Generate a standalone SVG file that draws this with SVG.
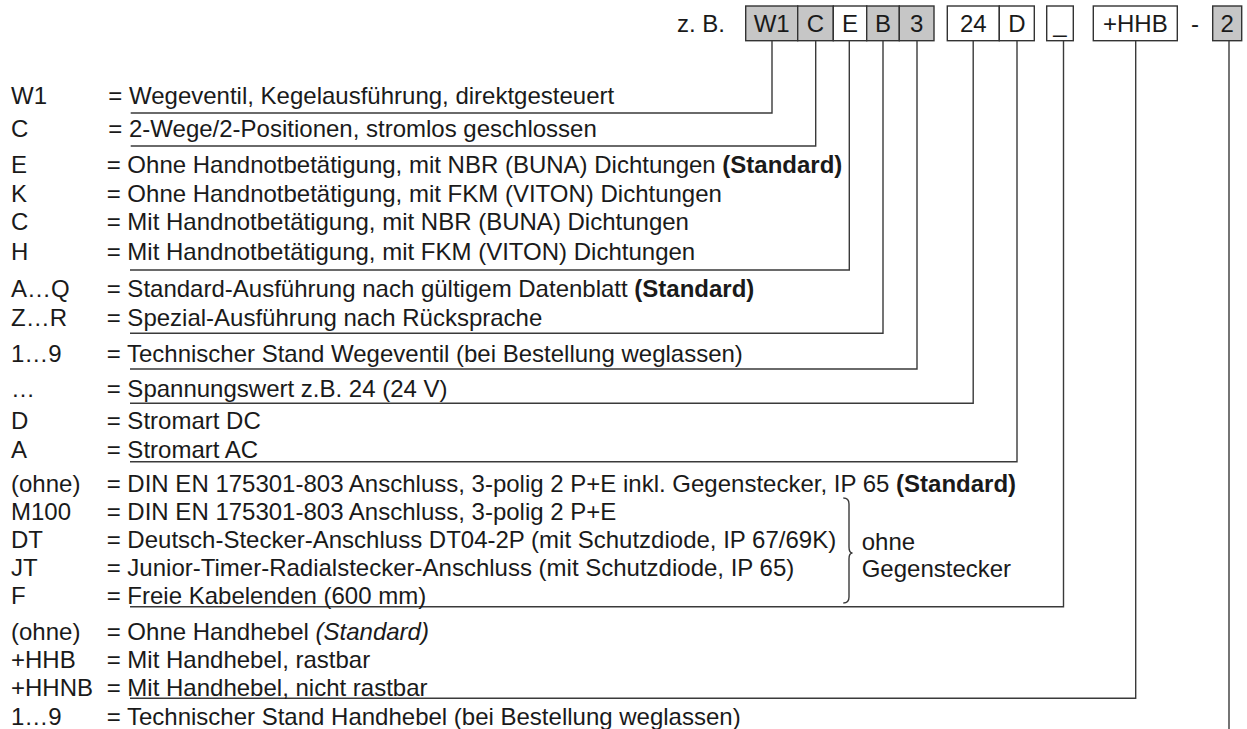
<svg xmlns="http://www.w3.org/2000/svg" width="1247" height="729" viewBox="0 0 1247 729">
<style>
text{font-family:"Liberation Sans",Arial,sans-serif;font-size:24px;fill:#1a1a1a}
.b{font-weight:bold}
.i{font-style:italic}
.c{text-anchor:middle}
.g{fill:#c6c6c6;stroke:#333;stroke-width:1.4}
.w{fill:#fff;stroke:#333;stroke-width:1.4}
.ln{fill:none;stroke:#3a3a3a;stroke-width:1.4}
</style>
<rect width="1247" height="729" fill="#fff"/>
<g id="header">
<text x="677" y="31.7">z. B.</text>
<g id="box-w1"><rect class="g" x="745.7" y="6" width="52" height="34.7"/><text class="c" x="771.7" y="31.7">W1</text></g>
<g id="box-c"><rect class="g" x="797.7" y="6" width="35.6" height="34.7"/><text class="c" x="815.5" y="31.7">C</text></g>
<g id="box-e"><rect class="w" x="833.3" y="6" width="33.4" height="34.7"/><text class="c" x="850" y="31.7">E</text></g>
<g id="box-b"><rect class="g" x="866.7" y="6" width="32.6" height="34.7"/><text class="c" x="883" y="31.7">B</text></g>
<g id="box-3"><rect class="g" x="899.3" y="6" width="34.7" height="34.7"/><text class="c" x="916.7" y="31.7">3</text></g>
<g id="box-24"><rect class="w" x="947.3" y="6" width="52" height="34.7"/><text class="c" x="973.3" y="31.7">24</text></g>
<g id="box-d"><rect class="w" x="999.3" y="6" width="35" height="34.7"/><text class="c" x="1016.8" y="31.7">D</text></g>
<g id="box-us"><rect class="w" x="1046.7" y="6" width="26.6" height="34.7"/><text class="c" x="1060" y="31.7">_</text></g>
<g id="box-hhb"><rect class="w" x="1093.3" y="6" width="84" height="34.7"/><text class="c" x="1135.3" y="31.7">+HHB</text></g>
<text class="c" x="1195" y="31.7">-</text>
<g id="box-2"><rect class="g" x="1212.7" y="6" width="29" height="34.7"/><text class="c" x="1227.2" y="31.7">2</text></g>
</g>
<g id="connectors">
<polyline class="ln" points="772,40.7 772,113 130.7,113"/>
<polyline class="ln" points="815.7,40.7 815.7,146 130.7,146"/>
<polyline class="ln" points="849.3,40.7 849.3,270 130,270"/>
<polyline class="ln" points="883,40.7 883,333.3 130,333.3"/>
<polyline class="ln" points="917,40.7 917,369 130,369"/>
<polyline class="ln" points="973.2,40.7 973.2,403.3 130,403.3"/>
<polyline class="ln" points="1017,40.7 1017,461.7 130,461.7"/>
<polyline class="ln" points="1063.5,40.7 1063.5,606.7 130,606.7"/>
<polyline class="ln" points="1135.7,40.7 1135.7,698.3 130,698.3"/>
<polyline class="ln" points="1229,40.7 1229,729"/>
</g>
<g id="row-w1"><text x="11" y="104.3">W1</text><text x="108.3" y="104.3">= Wegeventil, Kegelausführung, direktgesteuert</text></g>
<g id="row-c"><text x="11" y="137.3">C</text><text x="108.3" y="137.3">= 2-Wege/2-Positionen, stromlos geschlossen</text></g>
<g id="row-e"><text x="11" y="172.7">E</text><text x="106.7" y="172.7">= Ohne Handnotbetätigung, mit NBR (BUNA) Dichtungen <tspan class="b">(Standard)</tspan></text></g>
<g id="row-k"><text x="11" y="201.5">K</text><text x="106.7" y="201.5">= Ohne Handnotbetätigung, mit FKM (VITON) Dichtungen</text></g>
<g id="row-c2"><text x="11" y="230.3">C</text><text x="106.7" y="230.3">= Mit Handnotbetätigung, mit NBR (BUNA) Dichtungen</text></g>
<g id="row-h"><text x="11" y="259.5">H</text><text x="106.7" y="259.5">= Mit Handnotbetätigung, mit FKM (VITON) Dichtungen</text></g>
<g id="row-aq"><text x="11" y="296.5">A…Q</text><text x="106.7" y="296.5">= Standard-Ausführung nach gültigem Datenblatt <tspan class="b">(Standard)</tspan></text></g>
<g id="row-zr"><text x="11" y="326">Z…R</text><text x="106.7" y="326">= Spezial-Ausführung nach Rücksprache</text></g>
<g id="row-19a"><text x="11" y="361.5">1…9</text><text x="106.7" y="361.5">= Technischer Stand Wegeventil (bei Bestellung weglassen)</text></g>
<g id="row-dots"><text x="11" y="396.5">…</text><text x="106.7" y="396.5">= Spannungswert z.B. 24 (24 V)</text></g>
<g id="row-d"><text x="11" y="429">D</text><text x="106.7" y="429">= Stromart DC</text></g>
<g id="row-a"><text x="11" y="457.5">A</text><text x="106.7" y="457.5">= Stromart AC</text></g>
<g id="row-ohne1"><text x="11" y="492">(ohne)</text><text x="106.7" y="492">= DIN EN 175301-803 Anschluss, 3-polig 2 P+E inkl. Gegenstecker, IP 65 <tspan class="b">(Standard)</tspan></text></g>
<g id="row-m100"><text x="11" y="520">M100</text><text x="106.7" y="520">= DIN EN 175301-803 Anschluss, 3-polig 2 P+E</text></g>
<g id="row-dt"><text x="11" y="548">DT</text><text x="106.7" y="548">= Deutsch-Stecker-Anschluss DT04-2P (mit Schutzdiode, IP 67/69K)</text></g>
<g id="row-jt"><text x="11" y="576">JT</text><text x="106.7" y="576">= Junior-Timer-Radialstecker-Anschluss (mit Schutzdiode, IP 65)</text></g>
<g id="row-f"><text x="11" y="603.5">F</text><text x="106.7" y="603.5">= Freie Kabelenden (600 mm)</text></g>
<g id="brace">
<path class="ln" d="M843.3,498 Q849,498 849,504 L849,547 Q849,553 852.5,553 Q849,553 849,559 L849,597 Q849,603 843.3,603"/>
<text x="861.7" y="550">ohne</text>
<text x="861.7" y="577">Gegenstecker</text>
</g>
<g id="row-ohne2"><text x="11" y="640">(ohne)</text><text x="106.7" y="640">= Ohne Handhebel <tspan class="i">(Standard)</tspan></text></g>
<g id="row-hhb"><text x="11" y="667.5">+HHB</text><text x="106.7" y="667.5">= Mit Handhebel, rastbar</text></g>
<g id="row-hhnb"><text x="11" y="695.5">+HHNB</text><text x="106.7" y="695.5">= Mit Handhebel, nicht rastbar</text></g>
<g id="row-19b"><text x="11" y="724.5">1…9</text><text x="106.7" y="724.5">= Technischer Stand Handhebel (bei Bestellung weglassen)</text></g>
</svg>
